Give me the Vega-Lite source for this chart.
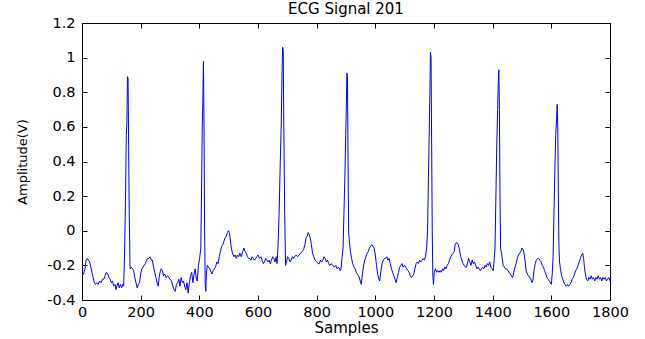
{
  "$schema": "https://vega.github.io/schema/vega-lite/v6.json",
  "autosize": "none",
  "width": 528,
  "height": 277,
  "padding": {"left": 82, "top": 23, "right": 35, "bottom": 39},
  "background": "white",
  "title": {"text": "ECG Signal 201", "font": "DejaVu Sans", "fontSize": 15, "fontWeight": "normal", "color": "black", "offset": -2},
  "config": {
    "view": {"stroke": "black", "strokeWidth": 1},
    "axis": {"grid": false, "domain": false, "tickColor": "black", "tickSize": -5, "labelColor": "black", "labelFont": "DejaVu Sans", "labelFontSize": 14.5, "titleFont": "DejaVu Sans", "titleColor": "black", "titleFontWeight": "normal", "labelFlush": false, "labelOverlap": false}
  },
  "data": {"values": [
{"sample":0,"amplitude":-0.26},{"sample":5,"amplitude":-0.25},{"sample":10,"amplitude":-0.22},{"sample":14,"amplitude":-0.17},{"sample":18,"amplitude":-0.16},{"sample":22,"amplitude":-0.17},{"sample":26,"amplitude":-0.18},{"sample":30,"amplitude":-0.21},{"sample":34,"amplitude":-0.24},{"sample":38,"amplitude":-0.27},{"sample":42,"amplitude":-0.3},{"sample":46,"amplitude":-0.31},{"sample":50,"amplitude":-0.3},{"sample":55,"amplitude":-0.31},{"sample":60,"amplitude":-0.29},{"sample":65,"amplitude":-0.3},{"sample":70,"amplitude":-0.28},{"sample":74,"amplitude":-0.28},{"sample":79,"amplitude":-0.26},{"sample":83,"amplitude":-0.24},{"sample":88,"amplitude":-0.25},{"sample":92,"amplitude":-0.27},{"sample":96,"amplitude":-0.28},{"sample":100,"amplitude":-0.3},{"sample":104,"amplitude":-0.29},{"sample":108,"amplitude":-0.32},{"sample":113,"amplitude":-0.31},{"sample":116,"amplitude":-0.34},{"sample":119,"amplitude":-0.32},{"sample":123,"amplitude":-0.3},{"sample":127,"amplitude":-0.33},{"sample":131,"amplitude":-0.31},{"sample":135,"amplitude":-0.33},{"sample":139,"amplitude":-0.31},{"sample":142,"amplitude":-0.32},{"sample":145,"amplitude":-0.14},{"sample":148,"amplitude":0.15},{"sample":151,"amplitude":0.55},{"sample":153,"amplitude":0.62},{"sample":155,"amplitude":0.89},{"sample":157,"amplitude":0.88},{"sample":159,"amplitude":0.5},{"sample":161,"amplitude":0.1},{"sample":164,"amplitude":-0.22},{"sample":168,"amplitude":-0.21},{"sample":172,"amplitude":-0.22},{"sample":176,"amplitude":-0.23},{"sample":180,"amplitude":-0.27},{"sample":184,"amplitude":-0.3},{"sample":188,"amplitude":-0.33},{"sample":192,"amplitude":-0.31},{"sample":196,"amplitude":-0.3},{"sample":200,"amplitude":-0.25},{"sample":204,"amplitude":-0.22},{"sample":208,"amplitude":-0.21},{"sample":212,"amplitude":-0.2},{"sample":216,"amplitude":-0.19},{"sample":220,"amplitude":-0.17},{"sample":224,"amplitude":-0.16},{"sample":228,"amplitude":-0.16},{"sample":232,"amplitude":-0.15},{"sample":236,"amplitude":-0.17},{"sample":240,"amplitude":-0.17},{"sample":244,"amplitude":-0.21},{"sample":248,"amplitude":-0.24},{"sample":252,"amplitude":-0.27},{"sample":256,"amplitude":-0.3},{"sample":260,"amplitude":-0.32},{"sample":263,"amplitude":-0.27},{"sample":266,"amplitude":-0.24},{"sample":270,"amplitude":-0.22},{"sample":274,"amplitude":-0.23},{"sample":278,"amplitude":-0.26},{"sample":282,"amplitude":-0.25},{"sample":287,"amplitude":-0.27},{"sample":292,"amplitude":-0.26},{"sample":296,"amplitude":-0.27},{"sample":300,"amplitude":-0.28},{"sample":305,"amplitude":-0.29},{"sample":310,"amplitude":-0.32},{"sample":314,"amplitude":-0.34},{"sample":318,"amplitude":-0.35},{"sample":322,"amplitude":-0.31},{"sample":326,"amplitude":-0.3},{"sample":330,"amplitude":-0.28},{"sample":334,"amplitude":-0.32},{"sample":338,"amplitude":-0.27},{"sample":342,"amplitude":-0.3},{"sample":346,"amplitude":-0.29},{"sample":350,"amplitude":-0.32},{"sample":354,"amplitude":-0.34},{"sample":358,"amplitude":-0.3},{"sample":362,"amplitude":-0.36},{"sample":366,"amplitude":-0.3},{"sample":370,"amplitude":-0.26},{"sample":374,"amplitude":-0.24},{"sample":378,"amplitude":-0.3},{"sample":382,"amplitude":-0.25},{"sample":386,"amplitude":-0.22},{"sample":390,"amplitude":-0.28},{"sample":393,"amplitude":-0.29},{"sample":397,"amplitude":-0.2},{"sample":401,"amplitude":-0.16},{"sample":405,"amplitude":-0.1},{"sample":408,"amplitude":0.3},{"sample":410,"amplitude":0.6},{"sample":412,"amplitude":0.75},{"sample":414,"amplitude":0.98},{"sample":416,"amplitude":0.6},{"sample":418,"amplitude":0.0},{"sample":420,"amplitude":-0.3},{"sample":422,"amplitude":-0.35},{"sample":424,"amplitude":-0.25},{"sample":427,"amplitude":-0.2},{"sample":431,"amplitude":-0.21},{"sample":436,"amplitude":-0.22},{"sample":440,"amplitude":-0.24},{"sample":443,"amplitude":-0.25},{"sample":447,"amplitude":-0.23},{"sample":451,"amplitude":-0.22},{"sample":455,"amplitude":-0.21},{"sample":460,"amplitude":-0.18},{"sample":464,"amplitude":-0.19},{"sample":468,"amplitude":-0.15},{"sample":472,"amplitude":-0.12},{"sample":476,"amplitude":-0.09},{"sample":480,"amplitude":-0.08},{"sample":484,"amplitude":-0.06},{"sample":488,"amplitude":-0.04},{"sample":492,"amplitude":-0.03},{"sample":496,"amplitude":-0.01},{"sample":499,"amplitude":0.0},{"sample":502,"amplitude":-0.01},{"sample":505,"amplitude":-0.04},{"sample":509,"amplitude":-0.1},{"sample":513,"amplitude":-0.13},{"sample":518,"amplitude":-0.15},{"sample":522,"amplitude":-0.14},{"sample":526,"amplitude":-0.16},{"sample":530,"amplitude":-0.14},{"sample":534,"amplitude":-0.15},{"sample":538,"amplitude":-0.13},{"sample":543,"amplitude":-0.15},{"sample":548,"amplitude":-0.12},{"sample":552,"amplitude":-0.1},{"sample":556,"amplitude":-0.12},{"sample":560,"amplitude":-0.13},{"sample":564,"amplitude":-0.15},{"sample":568,"amplitude":-0.16},{"sample":572,"amplitude":-0.16},{"sample":576,"amplitude":-0.17},{"sample":580,"amplitude":-0.15},{"sample":584,"amplitude":-0.16},{"sample":588,"amplitude":-0.17},{"sample":592,"amplitude":-0.16},{"sample":596,"amplitude":-0.15},{"sample":600,"amplitude":-0.14},{"sample":605,"amplitude":-0.16},{"sample":610,"amplitude":-0.15},{"sample":614,"amplitude":-0.17},{"sample":618,"amplitude":-0.19},{"sample":622,"amplitude":-0.18},{"sample":626,"amplitude":-0.16},{"sample":630,"amplitude":-0.17},{"sample":634,"amplitude":-0.18},{"sample":638,"amplitude":-0.17},{"sample":642,"amplitude":-0.19},{"sample":646,"amplitude":-0.17},{"sample":650,"amplitude":-0.15},{"sample":654,"amplitude":-0.16},{"sample":658,"amplitude":-0.18},{"sample":662,"amplitude":-0.15},{"sample":665,"amplitude":-0.19},{"sample":668,"amplitude":-0.1},{"sample":672,"amplitude":0.1},{"sample":676,"amplitude":0.4},{"sample":679,"amplitude":0.6},{"sample":682,"amplitude":0.9},{"sample":684,"amplitude":1.06},{"sample":686,"amplitude":1.04},{"sample":688,"amplitude":0.6},{"sample":691,"amplitude":0.1},{"sample":694,"amplitude":-0.2},{"sample":697,"amplitude":-0.18},{"sample":701,"amplitude":-0.15},{"sample":705,"amplitude":-0.16},{"sample":709,"amplitude":-0.18},{"sample":713,"amplitude":-0.17},{"sample":717,"amplitude":-0.15},{"sample":721,"amplitude":-0.16},{"sample":725,"amplitude":-0.15},{"sample":730,"amplitude":-0.14},{"sample":735,"amplitude":-0.15},{"sample":740,"amplitude":-0.14},{"sample":745,"amplitude":-0.13},{"sample":750,"amplitude":-0.12},{"sample":755,"amplitude":-0.11},{"sample":760,"amplitude":-0.08},{"sample":764,"amplitude":-0.04},{"sample":768,"amplitude":-0.03},{"sample":771,"amplitude":-0.01},{"sample":774,"amplitude":-0.02},{"sample":778,"amplitude":-0.04},{"sample":782,"amplitude":-0.08},{"sample":786,"amplitude":-0.13},{"sample":790,"amplitude":-0.15},{"sample":795,"amplitude":-0.17},{"sample":800,"amplitude":-0.18},{"sample":805,"amplitude":-0.19},{"sample":809,"amplitude":-0.19},{"sample":813,"amplitude":-0.17},{"sample":817,"amplitude":-0.18},{"sample":821,"amplitude":-0.17},{"sample":825,"amplitude":-0.15},{"sample":829,"amplitude":-0.16},{"sample":833,"amplitude":-0.18},{"sample":837,"amplitude":-0.17},{"sample":841,"amplitude":-0.19},{"sample":845,"amplitude":-0.2},{"sample":850,"amplitude":-0.19},{"sample":855,"amplitude":-0.2},{"sample":860,"amplitude":-0.21},{"sample":865,"amplitude":-0.2},{"sample":870,"amplitude":-0.22},{"sample":875,"amplitude":-0.21},{"sample":880,"amplitude":-0.23},{"sample":883,"amplitude":-0.22},{"sample":887,"amplitude":-0.15},{"sample":890,"amplitude":-0.1},{"sample":893,"amplitude":0.1},{"sample":896,"amplitude":0.3},{"sample":899,"amplitude":0.55},{"sample":901,"amplitude":0.7},{"sample":903,"amplitude":0.91},{"sample":905,"amplitude":0.89},{"sample":907,"amplitude":0.4},{"sample":909,"amplitude":0.0},{"sample":911,"amplitude":-0.05},{"sample":915,"amplitude":-0.12},{"sample":919,"amplitude":-0.16},{"sample":923,"amplitude":-0.19},{"sample":927,"amplitude":-0.21},{"sample":931,"amplitude":-0.22},{"sample":935,"amplitude":-0.24},{"sample":939,"amplitude":-0.25},{"sample":943,"amplitude":-0.26},{"sample":947,"amplitude":-0.28},{"sample":952,"amplitude":-0.31},{"sample":956,"amplitude":-0.25},{"sample":960,"amplitude":-0.2},{"sample":964,"amplitude":-0.17},{"sample":968,"amplitude":-0.15},{"sample":972,"amplitude":-0.13},{"sample":976,"amplitude":-0.12},{"sample":980,"amplitude":-0.1},{"sample":984,"amplitude":-0.09},{"sample":988,"amplitude":-0.08},{"sample":992,"amplitude":-0.09},{"sample":996,"amplitude":-0.1},{"sample":1000,"amplitude":-0.14},{"sample":1004,"amplitude":-0.2},{"sample":1008,"amplitude":-0.25},{"sample":1012,"amplitude":-0.28},{"sample":1015,"amplitude":-0.29},{"sample":1019,"amplitude":-0.23},{"sample":1023,"amplitude":-0.19},{"sample":1027,"amplitude":-0.17},{"sample":1031,"amplitude":-0.16},{"sample":1035,"amplitude":-0.16},{"sample":1039,"amplitude":-0.15},{"sample":1043,"amplitude":-0.17},{"sample":1047,"amplitude":-0.16},{"sample":1051,"amplitude":-0.19},{"sample":1055,"amplitude":-0.22},{"sample":1059,"amplitude":-0.24},{"sample":1063,"amplitude":-0.26},{"sample":1067,"amplitude":-0.28},{"sample":1071,"amplitude":-0.3},{"sample":1075,"amplitude":-0.27},{"sample":1079,"amplitude":-0.24},{"sample":1083,"amplitude":-0.21},{"sample":1087,"amplitude":-0.2},{"sample":1091,"amplitude":-0.19},{"sample":1095,"amplitude":-0.21},{"sample":1099,"amplitude":-0.2},{"sample":1103,"amplitude":-0.21},{"sample":1107,"amplitude":-0.22},{"sample":1111,"amplitude":-0.23},{"sample":1115,"amplitude":-0.24},{"sample":1119,"amplitude":-0.26},{"sample":1123,"amplitude":-0.27},{"sample":1127,"amplitude":-0.26},{"sample":1131,"amplitude":-0.25},{"sample":1135,"amplitude":-0.22},{"sample":1139,"amplitude":-0.19},{"sample":1143,"amplitude":-0.18},{"sample":1147,"amplitude":-0.19},{"sample":1151,"amplitude":-0.17},{"sample":1155,"amplitude":-0.18},{"sample":1159,"amplitude":-0.17},{"sample":1163,"amplitude":-0.16},{"sample":1167,"amplitude":-0.17},{"sample":1171,"amplitude":-0.15},{"sample":1175,"amplitude":-0.1},{"sample":1178,"amplitude":0.0},{"sample":1181,"amplitude":0.3},{"sample":1184,"amplitude":0.6},{"sample":1186,"amplitude":0.8},{"sample":1188,"amplitude":1.03},{"sample":1190,"amplitude":1.0},{"sample":1192,"amplitude":0.5},{"sample":1194,"amplitude":0.0},{"sample":1196,"amplitude":-0.25},{"sample":1198,"amplitude":-0.31},{"sample":1201,"amplitude":-0.24},{"sample":1205,"amplitude":-0.22},{"sample":1209,"amplitude":-0.24},{"sample":1213,"amplitude":-0.23},{"sample":1217,"amplitude":-0.24},{"sample":1221,"amplitude":-0.23},{"sample":1225,"amplitude":-0.24},{"sample":1229,"amplitude":-0.22},{"sample":1233,"amplitude":-0.23},{"sample":1237,"amplitude":-0.21},{"sample":1241,"amplitude":-0.22},{"sample":1245,"amplitude":-0.2},{"sample":1249,"amplitude":-0.19},{"sample":1253,"amplitude":-0.17},{"sample":1257,"amplitude":-0.15},{"sample":1261,"amplitude":-0.14},{"sample":1265,"amplitude":-0.13},{"sample":1269,"amplitude":-0.12},{"sample":1272,"amplitude":-0.08},{"sample":1275,"amplitude":-0.07},{"sample":1279,"amplitude":-0.07},{"sample":1283,"amplitude":-0.08},{"sample":1287,"amplitude":-0.11},{"sample":1291,"amplitude":-0.15},{"sample":1295,"amplitude":-0.17},{"sample":1299,"amplitude":-0.19},{"sample":1303,"amplitude":-0.2},{"sample":1307,"amplitude":-0.21},{"sample":1311,"amplitude":-0.21},{"sample":1315,"amplitude":-0.18},{"sample":1318,"amplitude":-0.16},{"sample":1322,"amplitude":-0.18},{"sample":1326,"amplitude":-0.2},{"sample":1330,"amplitude":-0.17},{"sample":1334,"amplitude":-0.19},{"sample":1338,"amplitude":-0.18},{"sample":1342,"amplitude":-0.2},{"sample":1346,"amplitude":-0.22},{"sample":1350,"amplitude":-0.21},{"sample":1354,"amplitude":-0.22},{"sample":1358,"amplitude":-0.23},{"sample":1362,"amplitude":-0.22},{"sample":1366,"amplitude":-0.21},{"sample":1370,"amplitude":-0.22},{"sample":1374,"amplitude":-0.2},{"sample":1378,"amplitude":-0.21},{"sample":1382,"amplitude":-0.19},{"sample":1386,"amplitude":-0.2},{"sample":1390,"amplitude":-0.18},{"sample":1394,"amplitude":-0.21},{"sample":1398,"amplitude":-0.22},{"sample":1402,"amplitude":-0.23},{"sample":1405,"amplitude":-0.17},{"sample":1408,"amplitude":-0.1},{"sample":1411,"amplitude":0.2},{"sample":1414,"amplitude":0.5},{"sample":1417,"amplitude":0.7},{"sample":1419,"amplitude":0.85},{"sample":1421,"amplitude":0.93},{"sample":1423,"amplitude":0.7},{"sample":1425,"amplitude":0.2},{"sample":1427,"amplitude":-0.1},{"sample":1429,"amplitude":-0.12},{"sample":1432,"amplitude":-0.15},{"sample":1436,"amplitude":-0.2},{"sample":1440,"amplitude":-0.21},{"sample":1444,"amplitude":-0.22},{"sample":1448,"amplitude":-0.22},{"sample":1452,"amplitude":-0.23},{"sample":1456,"amplitude":-0.24},{"sample":1460,"amplitude":-0.25},{"sample":1464,"amplitude":-0.26},{"sample":1468,"amplitude":-0.27},{"sample":1472,"amplitude":-0.24},{"sample":1476,"amplitude":-0.21},{"sample":1480,"amplitude":-0.19},{"sample":1484,"amplitude":-0.16},{"sample":1488,"amplitude":-0.14},{"sample":1492,"amplitude":-0.13},{"sample":1496,"amplitude":-0.12},{"sample":1500,"amplitude":-0.1},{"sample":1504,"amplitude":-0.11},{"sample":1508,"amplitude":-0.14},{"sample":1511,"amplitude":-0.18},{"sample":1514,"amplitude":-0.23},{"sample":1518,"amplitude":-0.25},{"sample":1522,"amplitude":-0.26},{"sample":1526,"amplitude":-0.27},{"sample":1530,"amplitude":-0.28},{"sample":1534,"amplitude":-0.3},{"sample":1537,"amplitude":-0.29},{"sample":1541,"amplitude":-0.23},{"sample":1545,"amplitude":-0.19},{"sample":1549,"amplitude":-0.17},{"sample":1553,"amplitude":-0.16},{"sample":1557,"amplitude":-0.16},{"sample":1561,"amplitude":-0.17},{"sample":1565,"amplitude":-0.18},{"sample":1569,"amplitude":-0.2},{"sample":1573,"amplitude":-0.21},{"sample":1577,"amplitude":-0.23},{"sample":1581,"amplitude":-0.25},{"sample":1585,"amplitude":-0.27},{"sample":1589,"amplitude":-0.28},{"sample":1593,"amplitude":-0.29},{"sample":1597,"amplitude":-0.3},{"sample":1600,"amplitude":-0.31},{"sample":1603,"amplitude":-0.25},{"sample":1606,"amplitude":-0.15},{"sample":1609,"amplitude":0.1},{"sample":1612,"amplitude":0.35},{"sample":1615,"amplitude":0.55},{"sample":1618,"amplitude":0.65},{"sample":1620,"amplitude":0.73},{"sample":1622,"amplitude":0.6},{"sample":1624,"amplitude":0.2},{"sample":1626,"amplitude":-0.1},{"sample":1628,"amplitude":-0.18},{"sample":1631,"amplitude":-0.22},{"sample":1635,"amplitude":-0.26},{"sample":1639,"amplitude":-0.28},{"sample":1643,"amplitude":-0.3},{"sample":1647,"amplitude":-0.31},{"sample":1651,"amplitude":-0.32},{"sample":1655,"amplitude":-0.31},{"sample":1659,"amplitude":-0.32},{"sample":1663,"amplitude":-0.31},{"sample":1667,"amplitude":-0.3},{"sample":1671,"amplitude":-0.28},{"sample":1675,"amplitude":-0.27},{"sample":1679,"amplitude":-0.25},{"sample":1683,"amplitude":-0.23},{"sample":1687,"amplitude":-0.22},{"sample":1691,"amplitude":-0.2},{"sample":1695,"amplitude":-0.18},{"sample":1699,"amplitude":-0.16},{"sample":1703,"amplitude":-0.14},{"sample":1707,"amplitude":-0.13},{"sample":1710,"amplitude":-0.16},{"sample":1713,"amplitude":-0.21},{"sample":1716,"amplitude":-0.25},{"sample":1720,"amplitude":-0.28},{"sample":1724,"amplitude":-0.29},{"sample":1728,"amplitude":-0.27},{"sample":1732,"amplitude":-0.28},{"sample":1736,"amplitude":-0.26},{"sample":1740,"amplitude":-0.28},{"sample":1744,"amplitude":-0.27},{"sample":1748,"amplitude":-0.29},{"sample":1752,"amplitude":-0.27},{"sample":1756,"amplitude":-0.28},{"sample":1760,"amplitude":-0.26},{"sample":1764,"amplitude":-0.28},{"sample":1768,"amplitude":-0.27},{"sample":1772,"amplitude":-0.29},{"sample":1776,"amplitude":-0.27},{"sample":1780,"amplitude":-0.28},{"sample":1784,"amplitude":-0.27},{"sample":1788,"amplitude":-0.29},{"sample":1792,"amplitude":-0.28},{"sample":1796,"amplitude":-0.27},{"sample":1800,"amplitude":-0.29}
  ]},
  "layer": [
    {
      "mark": {"type": "line", "color": "#0000FF", "strokeWidth": 1, "clip": true},
      "encoding": {
        "x": {"field": "sample", "type": "quantitative", "scale": {"domain": [0, 1800], "nice": false, "zero": false},
              "axis": {"orient": "bottom", "values": [0,200,400,600,800,1000,1200,1400,1600,1800], "format": "d", "labelPadding": 10, "title": "Samples", "titleFontSize": 15, "titlePadding": 2}},
        "y": {"field": "amplitude", "type": "quantitative", "scale": {"domain": [-0.4, 1.2], "nice": false, "zero": false},
              "axis": {"orient": "left", "values": [-0.4,-0.2,0,0.2,0.4,0.6,0.8,1,1.2], "labelExpr": "replace(format(datum.value, '~g'), '\u2212', '-')", "labelPadding": 12, "title": "Amplitude(V)", "titleFontSize": 13, "titlePadding": 17}}
      }
    },
    {
      "mark": {"type": "line", "opacity": 0},
      "encoding": {
        "x": {"field": "sample", "type": "quantitative", "axis": {"orient": "top", "values": [0,200,400,600,800,1000,1200,1400,1600,1800], "labels": false, "title": null}},
        "y": {"field": "amplitude", "type": "quantitative", "axis": {"orient": "right", "values": [-0.4,-0.2,0,0.2,0.4,0.6,0.8,1,1.2], "labels": false, "title": null}}
      }
    }
  ],
  "resolve": {"axis": {"x": "independent", "y": "independent"}}
}
